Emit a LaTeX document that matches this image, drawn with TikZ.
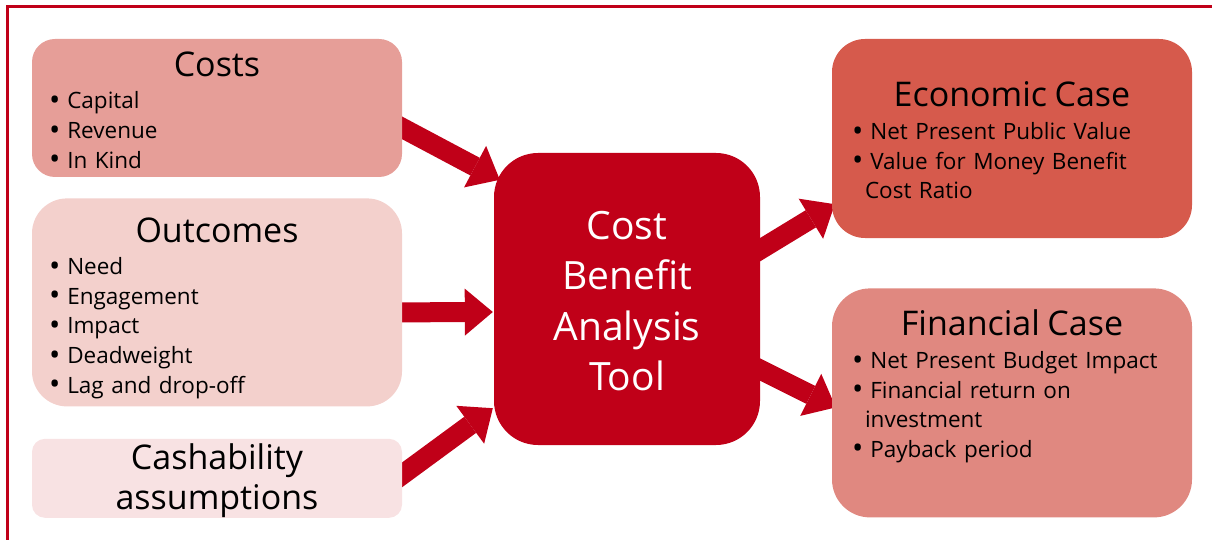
\documentclass[tikz,border=0pt]{standalone}
\usepackage{fontspec}
\setmainfont{Open Sans}
\usetikzlibrary{positioning, arrows.meta, backgrounds}

\definecolor{cbared}{HTML}{C00018}
\definecolor{costfill}{HTML}{E69E98}
\definecolor{outfill}{HTML}{F3D0CC}
\definecolor{cashfill}{HTML}{F8E2E3}
\definecolor{econfill}{HTML}{D65A4C}
\definecolor{finfill}{HTML}{E08880}

% title line of a box, #1 = extra room above it
\newcommand{\boxtitle}[2][0pt]{{\centering\fontsize{34}{40}\selectfont\rule{0pt}{\dimexpr24pt+#1\relax}#2\par}\vspace{3pt}}
\newcommand{\bul}{\hspace*{-3pt}\raisebox{-1.6pt}{\fontsize{30}{0}\selectfont •}\hspace{7pt}}

\begin{document}
\begin{tikzpicture}[x=1pt, y=-1pt,
      node distance=21pt and 72pt,
      sbox/.style={rounded corners=#1, inner xsep=20pt, inner ysep=0pt, text width=330pt,
        font={\fontsize{22.5}{29.6}\selectfont}},
      rbox/.style={sbox=#1, inner xsep=23pt, text width=314pt},
      tool/.style={rounded corners=44pt, fill=cbared, text=white, minimum width=266pt,
        minimum height=292pt, align=center, font={\fontsize{39}{50.5}\selectfont}},
      flow/.style={line width=20pt, cbared, -{Triangle[width=47pt, length=28pt, line width=0pt]}},
      frame/.style={cbared, line width=3pt}]

      \useasboundingbox (0,0) rectangle (1212,540);
      \draw[frame] (7.5,540) -- (7.5,6.5) -- (1212,6.5);

      % inputs
      \node[sbox=23pt, fill=costfill, minimum height=138pt] (costs) at (217,108)
        {\boxtitle[6pt]{Costs}\raggedright \bul Capital\\\bul Revenue\\\bul In Kind};
      \node[sbox=35pt, fill=outfill, minimum height=208pt] (outcomes) [below=of costs]
        {\boxtitle[12pt]{Outcomes}\raggedright \bul Need\\\bul Engagement\\\bul Impact\\\bul Deadweight\\\bul Lag and drop-off};
      \node[sbox=13pt, fill=cashfill, minimum height=79pt, align=center,
        font={\fontsize{34}{40}\selectfont}] (cash) [below=32pt of outcomes]
        {\rule{0pt}{30pt}Cashability\\assumptions};

      % tool
      \node[tool] (cba) at (627,299) {\rule{0pt}{32pt}Cost\\Benefit\\Analysis\\Tool};

      % outputs
      \node[rbox=33pt, fill=econfill, minimum height=199pt] (econ) at (1012,138.5)
        {\boxtitle[5pt]{Economic Case}\raggedright \bul Net Present Public Value\\\bul Value for Money Benefit\\\hspace*{10pt}Cost Ratio};
      \node[rbox=38pt, fill=finfill, minimum height=229pt] (fin) [below=50pt of econ]
        {\boxtitle{Financial Case}\raggedright \bul Net Present Budget Impact\\\bul Financial return on\\\hspace*{10pt}investment\\\bul Payback period\\[8.8pt]\mbox{}};

      \begin{scope}[on background layer]
      \draw[flow] ([xshift=-10pt, yshift=-14.6pt]costs.east) -- ([xshift=6pt, yshift=-27pt]cba.north west);
      \draw[flow] ([xshift=-10pt, yshift=-10pt]outcomes.east) -- ([xshift=-1pt, yshift=-13pt]cba.west);
      \draw[flow] ([xshift=-10pt, yshift=-3.8pt]cash.east) -- ([xshift=-1pt, yshift=37pt]cba.south west);
      \draw[flow] ([xshift=-10pt, yshift=43.3pt]cba.east) -- ([xshift=3pt, yshift=34pt]econ.south west);
      \draw[flow] ([xshift=-10pt, yshift=-65.6pt]cba.east) -- ([xshift=4pt, yshift=-4.5pt]fin.west);
      \end{scope}
\end{tikzpicture}
\end{document}
